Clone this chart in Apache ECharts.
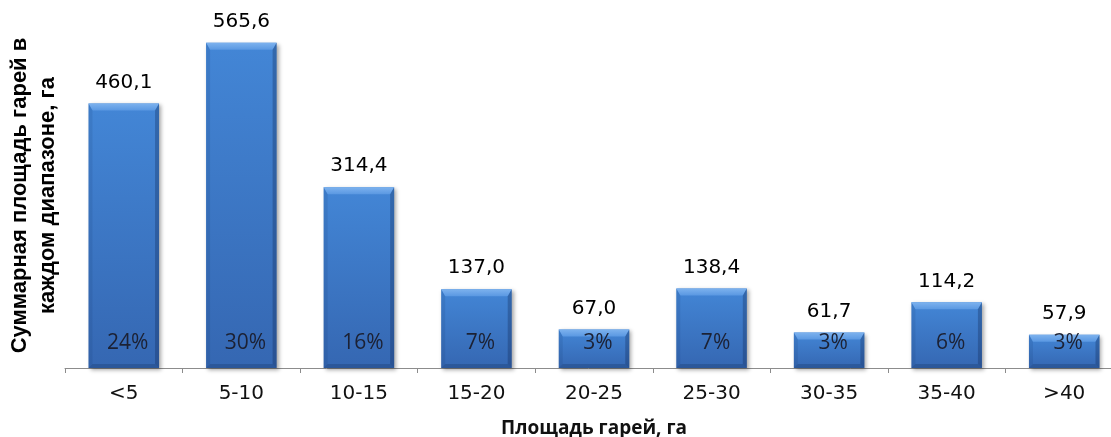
<!DOCTYPE html>
<html>
<head>
<meta charset="utf-8">
<script src="https://cdn.jsdelivr.net/npm/echarts@6/dist/echarts.min.js"></script>
<style>
  html, body { margin: 0; padding: 0; background: #fff; }
  #chart { width: 1111px; height: 437px; }
</style>
</head>
<body>
<div id="chart"></div>
<script>
// Burned area per size class
const categories = ['<5', '5-10', '10-15', '15-20', '20-25', '25-30', '30-35', '35-40', '>40'];
const areaValues = [460.1, 565.6, 314.4, 137.0, 67.0, 138.4, 61.7, 114.2, 57.9];
const shareValues = [24, 30, 16, 7, 3, 7, 3, 6, 3];

const xAxisTitle = 'Площадь гарей, га';
const yAxisTitle = 'Суммарная площадь гарей в\nкаждом диапазоне, га';

const seriesData = areaValues.map((v, i) => [i, v, shareValues[i]]);

function fmt(v) {
  return v.toFixed(1).replace('.', ',');
}

// Bevelled bar: face + four edge facets, value above, share inside at the foot
function renderBar(params, api) {
  const i = api.value(0);
  const v = api.value(1);
  const share = api.value(2);
  const top = api.coord([i, v]);
  const base = api.coord([i, 0]);
  const w = api.size([1, 0])[0] * 0.6;
  const x0 = top[0] - w / 2, x1 = x0 + w;
  const y0 = top[1], y1 = base[1];
  const h = y1 - y0;
  const b = Math.min(7, h / 3);
  const s = 4;
  return {
    type: 'group',
    children: [
      {
        type: 'rect',
        shape: { x: x0, y: y0, width: w, height: h },
        style: {
          fill: new echarts.graphic.LinearGradient(0, 0, 0, 1, [
            { offset: 0, color: '#4386d6' },
            { offset: 1, color: '#3567b2' }
          ]),
          shadowColor: 'rgba(0,0,0,0.35)',
          shadowBlur: 4,
          shadowOffsetX: 2,
          shadowOffsetY: 2
        }
      },
      {
        type: 'polygon',
        shape: { points: [[x0, y0], [x1, y0], [x1 - s, y0 + b], [x0 + s, y0 + b]] },
        style: {
          fill: new echarts.graphic.LinearGradient(0, 0, 0, 1, [
            { offset: 0, color: '#7db2ee' },
            { offset: 1, color: '#5a98e2' }
          ])
        }
      },
      {
        type: 'polygon',
        shape: { points: [[x0, y0], [x0 + s, y0 + b], [x0 + s, y1 - s], [x0, y1]] },
        style: { fill: 'rgba(20,50,100,0.12)' }
      },
      {
        type: 'polygon',
        shape: { points: [[x1, y0], [x1, y1], [x1 - s, y1 - s], [x1 - s, y0 + b]] },
        style: { fill: 'rgba(10,30,70,0.28)' }
      },
      {
        type: 'polygon',
        shape: { points: [[x0, y1], [x0 + s, y1 - s], [x1 - s, y1 - s], [x1, y1]] },
        style: { fill: 'rgba(10,30,70,0.22)' }
      },
      {
        type: 'text',
        x: top[0],
        y: y0 - 21,
        style: {
          text: fmt(v),
          fill: '#000',
          font: '20px "DejaVu Sans", sans-serif',
          textAlign: 'center',
          textVerticalAlign: 'middle'
        }
      },
      {
        type: 'text',
        x: top[0] + 4,
        y: y1 - 25,
        style: {
          text: share + '%',
          fill: '#1c2133',
          font: '21px "Open Sans", "DejaVu Sans", sans-serif',
          textAlign: 'center',
          textVerticalAlign: 'middle'
        }
      }
    ]
  };
}

const chart = echarts.init(document.getElementById('chart'), null, { renderer: 'canvas' });
chart.setOption({
  animation: false,
  grid: { left: 65, top: 23, width: 1058, bottom: 69, containLabel: false, outerBoundsMode: 'none' },
  xAxis: {
    type: 'category',
    data: categories,
    boundaryGap: true,
    name: xAxisTitle,
    nameLocation: 'middle',
    nameGap: 51,
    nameTextStyle: {
      fontFamily: '"Open Sans", sans-serif',
      fontWeight: 'bold',
      fontSize: 19,
      color: '#111'
    },
    axisLine: { show: true, lineStyle: { color: '#8c8c8c', width: 1 } },
    axisTick: { show: true, alignWithLabel: false, length: 5, lineStyle: { color: '#8c8c8c' } },
    axisLabel: {
      margin: 16,
      fontFamily: '"DejaVu Sans", sans-serif',
      fontSize: 20,
      color: '#111',
      interval: 0
    }
  },
  yAxis: {
    type: 'value',
    min: 0,
    max: 600,
    name: yAxisTitle,
    nameLocation: 'middle',
    nameRotate: 90,
    nameGap: 3,
    nameTextStyle: {
      fontFamily: '"Liberation Sans", Arial, sans-serif',
      fontWeight: 'bold',
      fontSize: 22,
      lineHeight: 28,
      color: '#000'
    },
    axisLine: { show: false },
    axisTick: { show: false },
    axisLabel: { show: false },
    splitLine: { show: false }
  },
  series: [
    {
      type: 'custom',
      renderItem: renderBar,
      encode: { x: 0, y: 1 },
      data: seriesData,
      clip: false
    }
  ]
});
</script>
</body>
</html>
